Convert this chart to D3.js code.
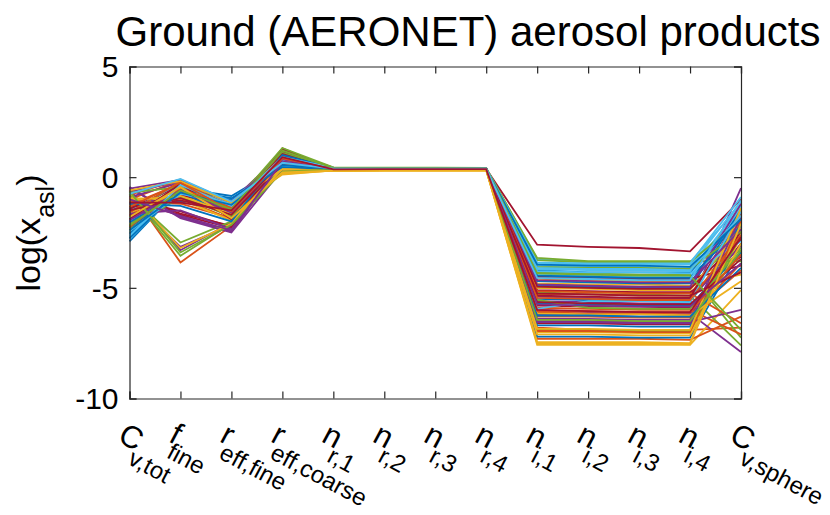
<!DOCTYPE html>
<html>
<head>
<meta charset="utf-8">
<script src="https://cdn.jsdelivr.net/npm/d3@7"></script>
<style>
  body { margin: 0; background: #fff; }
  text { font-family: "Liberation Sans", Arial, Helvetica, sans-serif; fill: #000; }
</style>
</head>
<body>
<div id="chart"></div>
<script>
// tick labels (base letter + subscript)
var labelBase = ["C", "f", "r", "r", "n", "n", "n", "n", "n", "n", "n", "n", "C"];
var labelSub = ["v,tot", "fine", "eff,fine", "eff,coarse", "r,1", "r,2", "r,3", "r,4", "i,1", "i,2", "i,3", "i,4", "v,sphere"];

// one value per sample line (log scale)
var cvTot = [-2.9, -0.6, -1.5, -0.5, -2.2, -2.7, -1.2,
  -1.8, -1.0, -2.4, -0.9, -0.75, -2.6, -0.95,
  -2.0, -1.3, -1.7, -0.55, -2.5, -1.9, -1.1,
  -1.4, -0.8, -2.1, -0.9, -1.6, -2.8, -0.85,
  -2.3, -1.1, -1.9, -0.65, -0.8, -2.0, -1.45,
  -2.55, -1.7, -0.95, -0.45, -2.15, -1.55, -1.75,
  -2.05, -1.25, -0.7, -0.52, -2.35, -1.85, -1.35,
  -2.75, -1.6, -1.05, -1.65, -0.7, -2.45, -1.9,
  -1.2, -2.25, -0.6, -1.95, -0.65, -2.65, -1.5,
  -2.4, -1.35, -1.8, -1.0, -2.2, -0.75, -1.15];
var fFine = [-0.5, -3.85, -0.3, -1.8, -0.8, -0.6, -0.9,
  -0.4, -0.15, -0.7, -0.25, -3.55, -0.55, -1.55,
  -0.35, -0.95, -0.2, -3.3, -0.45, -0.65, -1.7,
  -1.1, -0.1, -0.75, -3.15, -0.3, -0.5, -1.65,
  -0.6, -1.2, -0.4, -0.2, -2.95, -0.85, -0.35,
  -0.45, -0.7, -1.0, -1.85, -0.55, -0.25, -0.8,
  -0.65, -0.3, -3.2, -0.12, -0.9, -0.4, -1.05,
  -0.55, -0.2, -0.85, -1.5, -0.45, -0.75, -0.3,
  -1.3, -0.5, -0.18, -0.6, -3.4, -0.35, -0.95,
  -0.7, -0.25, -0.45, -1.75, -0.6, -0.08, -1.15];
var rEffFine = [-0.85, -2.2, -1.5, -2.45, -1.8, -1.3, -1.6,
  -1.4, -1.2, -1.7, -1.1, -2.1, -1.5, -2.25,
  -1.65, -1.9, -1.25, -2.05, -1.45, -1.35, -2.3,
  -1.55, -1.15, -1.75, -2.15, -1.3, -1.0, -2.2,
  -1.6, -1.85, -1.4, -1.2, -2.0, -1.7, -1.45,
  -1.05, -1.5, -1.95, -2.5, -1.6, -1.25, -1.35,
  -1.8, -1.3, -2.1, -1.1, -1.75, -1.45, -1.55,
  -0.95, -1.35, -1.65, -2.35, -1.5, -1.2, -1.9,
  -2.0, -1.4, -1.15, -1.6, -2.15, -1.3, -1.7,
  -1.25, -1.55, -1.85, -2.4, -1.45, -1.1, -1.5];
var rEffCoarse = [0.5, 0.3, 0.15, 0.6, 1.0, 0.8, 1.3,
  0.7, 0.9, 0.45, 1.1, 0.35, 0.65, 0.55,
  0.85, 1.2, 0.25, 0.4, 0.95, 0.75, 1.25,
  0.6, 1.05, 0.2, 0.5, 1.32, 0.7, 0.8,
  0.9, 0.55, 0.12, 0.75, 0.45, 0.85, 1.15,
  0.65, 1.0, 0.3, 0.35, 1.1, 0.6, 0.95,
  0.8, 0.7, 0.4, 0.9, 0.55, 0.5, 1.05,
  0.45, 0.95, 0.18, 0.65, 0.85, 0.75, 0.6,
  1.0, 0.6, 0.35, 0.8, 0.25, 0.9, 0.7,
  0.55, 0.85, 0.22, 0.7, 1.2, 0.65, 0.9];
var nR1 = [0.38, 0.33, 0.30, 0.36, 0.41, 0.39, 0.35,
  0.42, 0.37, 0.34, 0.40, 0.31, 0.38, 0.36,
  0.35, 0.43, 0.29, 0.37, 0.40, 0.39, 0.34,
  0.41, 0.36, 0.32, 0.38, 0.44, 0.35, 0.37,
  0.39, 0.34, 0.31, 0.40, 0.36, 0.42, 0.38,
  0.37, 0.40, 0.33, 0.35, 0.43, 0.38, 0.36,
  0.40, 0.35, 0.30, 0.39, 0.37, 0.41, 0.34,
  0.36, 0.42, 0.32, 0.38, 0.40, 0.37, 0.39,
  0.41, 0.34, 0.31, 0.37, 0.35, 0.43, 0.38,
  0.38, 0.36, 0.29, 0.40, 0.42, 0.39, 0.35];
var nR2 = [0.38, 0.34, 0.31, 0.36, 0.41, 0.38, 0.36,
  0.41, 0.37, 0.35, 0.40, 0.32, 0.38, 0.36,
  0.36, 0.42, 0.30, 0.37, 0.40, 0.38, 0.35,
  0.40, 0.37, 0.32, 0.38, 0.43, 0.36, 0.37,
  0.39, 0.35, 0.32, 0.39, 0.37, 0.41, 0.38,
  0.37, 0.40, 0.34, 0.36, 0.42, 0.38, 0.37,
  0.39, 0.36, 0.31, 0.39, 0.37, 0.40, 0.35,
  0.37, 0.41, 0.33, 0.38, 0.40, 0.37, 0.39,
  0.40, 0.35, 0.32, 0.37, 0.36, 0.42, 0.38,
  0.38, 0.37, 0.30, 0.39, 0.41, 0.38, 0.36];
var nR3 = [0.37, 0.34, 0.31, 0.37, 0.40, 0.38, 0.36,
  0.41, 0.36, 0.35, 0.39, 0.32, 0.37, 0.36,
  0.36, 0.42, 0.30, 0.36, 0.39, 0.38, 0.35,
  0.40, 0.37, 0.33, 0.38, 0.43, 0.36, 0.36,
  0.38, 0.35, 0.32, 0.39, 0.37, 0.41, 0.37,
  0.37, 0.39, 0.34, 0.36, 0.42, 0.37, 0.37,
  0.39, 0.36, 0.31, 0.38, 0.37, 0.40, 0.35,
  0.37, 0.41, 0.33, 0.37, 0.39, 0.37, 0.38,
  0.40, 0.35, 0.32, 0.37, 0.36, 0.41, 0.38,
  0.37, 0.37, 0.30, 0.39, 0.41, 0.38, 0.36];
var nR4 = [0.37, 0.35, 0.32, 0.37, 0.40, 0.38, 0.37,
  0.40, 0.36, 0.35, 0.39, 0.33, 0.37, 0.36,
  0.36, 0.41, 0.31, 0.36, 0.39, 0.37, 0.35,
  0.39, 0.37, 0.33, 0.38, 0.42, 0.36, 0.36,
  0.38, 0.36, 0.33, 0.38, 0.37, 0.40, 0.37,
  0.37, 0.39, 0.34, 0.36, 0.41, 0.37, 0.37,
  0.38, 0.36, 0.32, 0.38, 0.37, 0.39, 0.36,
  0.37, 0.40, 0.34, 0.37, 0.39, 0.37, 0.38,
  0.39, 0.36, 0.33, 0.37, 0.36, 0.40, 0.37,
  0.37, 0.37, 0.31, 0.38, 0.40, 0.38, 0.36];
var nI1 = [-4.2, -6.8, -7.58, -6.0, -5.0, -3.7, -3.05,
  -5.5, -7.3, -4.6, -6.4, -5.2, -3.9, -5.8,
  -4.9, -6.1, -7.0, -5.6, -3.65, -4.4, -6.6,
  -7.2, -5.3, -4.8, -6.2, -4.3, -4.0, -5.1,
  -6.7, -5.9, -7.45, -5.4, -6.9, -4.15, -4.5,
  -4.7, -6.3, -5.0, -6.5, -3.75, -4.25, -5.35,
  -5.7, -6.95, -6.15, -4.85, -5.55, -3.85, -4.95,
  -4.45, -5.15, -7.1, -6.55, -4.05, -5.95, -5.65,
  -6.25, -5.45, -6.85, -4.65, -6.45, -4.1, -5.25,
  -3.95, -6.05, -7.5, -5.75, -4.35, -4.55, -6.0];
var nI2 = [-4.3, -6.9, -7.58, -6.1, -5.0, -3.85, -3.15,
  -5.55, -7.3, -4.65, -6.4, -5.3, -3.95, -5.85,
  -4.95, -6.15, -7.0, -5.65, -3.8, -4.45, -6.6,
  -7.2, -5.3, -4.85, -6.25, -4.35, -4.05, -5.15,
  -6.7, -5.95, -7.45, -5.45, -6.9, -4.2, -4.55,
  -4.75, -6.3, -5.05, -6.5, -3.85, -4.3, -5.4,
  -5.75, -6.95, -6.2, -4.9, -5.9, -3.9, -5.0,
  -4.5, -5.2, -7.1, -6.55, -4.1, -5.6, -5.7,
  -6.25, -5.5, -6.85, -4.7, -6.45, -4.15, -5.3,
  -4.0, -6.05, -7.5, -5.8, -4.4, -4.6, -6.05];
var nI3 = [-4.3, -6.9, -7.58, -6.1, -5.05, -3.85, -3.2,
  -5.6, -7.3, -4.7, -6.45, -5.3, -3.95, -5.85,
  -5.0, -6.15, -7.05, -5.7, -3.8, -4.5, -6.65,
  -7.25, -5.35, -4.85, -6.3, -4.4, -4.05, -5.2,
  -6.75, -6.0, -7.45, -5.5, -6.95, -4.2, -4.6,
  -4.8, -6.35, -5.1, -6.55, -3.85, -4.3, -5.45,
  -5.8, -7.0, -6.2, -4.95, -5.95, -3.9, -5.05,
  -4.55, -5.25, -7.15, -6.6, -4.1, -5.6, -5.75,
  -6.3, -5.55, -6.9, -4.75, -6.5, -4.15, -5.35,
  -4.0, -6.1, -7.5, -5.85, -4.45, -4.65, -6.1];
var nI4 = [-4.3, -6.9, -7.58, -6.15, -5.05, -3.85, -3.35,
  -5.6, -7.35, -4.7, -6.45, -5.35, -3.95, -5.9,
  -5.0, -6.2, -7.05, -5.7, -3.8, -4.5, -6.65,
  -7.25, -5.35, -4.9, -6.3, -4.4, -4.05, -5.2,
  -6.75, -6.0, -7.5, -5.5, -6.95, -4.25, -4.6,
  -4.8, -6.35, -5.1, -6.55, -3.85, -4.35, -5.45,
  -5.8, -7.0, -6.25, -4.95, -5.95, -3.9, -5.05,
  -4.55, -5.25, -7.15, -6.6, -4.15, -5.65, -5.75,
  -6.3, -5.55, -6.9, -4.75, -6.5, -4.2, -5.35,
  -4.05, -6.1, -7.55, -5.85, -4.45, -4.65, -6.1];
var cvSphere = [-1.8, -6.8, -5.1, -7.9, -2.5, -1.2, -1.0,
  -2.8, -6.3, -3.5, -1.5, -7.6, -2.2, -3.0,
  -1.6, -4.2, -2.7, -0.5, -3.8, -1.4, -2.4,
  -3.3, -1.9, -4.4, -2.0, -7.25, -1.1, -3.6,
  -2.1, -7.1, -1.7, -3.1, -2.6, -1.3, -4.0,
  -1.5, -3.9, -2.3, -6.0, -1.9, -2.9, -1.6,
  -3.4, -2.0, -4.7, -1.2, -3.2, -0.9, -2.8,
  -2.2, -6.6, -3.0, -1.8, -2.45, -1.55, -3.7,
  -4.1, -2.6, -1.4, -2.35, -3.3, -1.75, -4.3,
  -1.9, -3.5, -2.1, -3.9, -6.9, -1.05, -2.7];

var yTicks = [5, 0, -5, -10];
var colors = ["#0072BD", "#D95319", "#EDB120", "#7E2F8E", "#77AC30", "#4DBEEE", "#A2142F"];

var columns = [cvTot, fFine, rEffFine, rEffCoarse, nR1, nR2, nR3, nR4, nI1, nI2, nI3, nI4, cvSphere];
var lines = d3.range(cvTot.length).map(function(i) {
  return columns.map(function(col) { return col[i]; });
});

var w = 830, h = 515;
var plotLeft = 129.5, plotRight = 741, plotTop = 66.5, plotBottom = 398.5;

var svg = d3.select("#chart").append("svg")
  .attr("width", w)
  .attr("height", h);

svg.append("rect").attr("width", w).attr("height", h).attr("fill", "#fff");

var x = d3.scalePoint()
  .domain(d3.range(labelBase.length))
  .range([plotLeft, plotRight]);

var y = d3.scaleLinear()
  .domain([-10, 5])
  .range([plotBottom, plotTop]);

var line = d3.line()
  .x(function(d, i) { return x(i); })
  .y(function(d) { return y(d); });

svg.append("g")
  .selectAll("path")
  .data(lines)
  .enter()
  .append("path")
  .attr("d", line)
  .attr("fill", "none")
  .attr("stroke", function(d, i) { return colors[i % colors.length]; })
  .attr("stroke-width", 1.8)
  .attr("stroke-linejoin", "miter");

// box with inward ticks on all four sides
var axisColor = "#262626";
var tickLen = 7;

svg.append("g").attr("transform", "translate(0," + plotBottom + ")")
  .call(d3.axisBottom(x).tickSize(-tickLen).tickFormat(""));
svg.append("g").attr("transform", "translate(0," + plotTop + ")")
  .call(d3.axisTop(x).tickSize(-tickLen).tickFormat(""));
svg.append("g").attr("transform", "translate(" + plotLeft + ",0)")
  .call(d3.axisLeft(y).tickValues(yTicks).tickSize(-tickLen).tickFormat(""));
svg.append("g").attr("transform", "translate(" + plotRight + ",0)")
  .call(d3.axisRight(y).tickValues(yTicks).tickSize(-tickLen).tickFormat(""));

svg.selectAll(".domain, .tick line")
  .attr("stroke", axisColor)
  .attr("stroke-width", 1.2);

// y tick labels
svg.append("g")
  .selectAll("text")
  .data(yTicks)
  .enter()
  .append("text")
  .attr("x", plotLeft - 11)
  .attr("y", function(d) { return y(d); })
  .attr("dy", "0.36em")
  .attr("text-anchor", "end")
  .style("font-size", "30px")
  .text(function(d) { return d; });

// rotated x tick labels with subscripts
var xl = svg.append("g")
  .selectAll("text")
  .data(labelBase)
  .enter()
  .append("text")
  .attr("transform", function(d, i) {
    return "translate(" + (x(i) - 13) + ",441) rotate(28)";
  })
  .style("font-size", "31px");

xl.append("tspan").text(function(d) { return d; });
xl.append("tspan")
  .attr("dx", -3)
  .attr("dy", 15)
  .style("font-size", "24px")
  .text(function(d, i) { return labelSub[i]; });

// y axis label
var yl = svg.append("text")
  .attr("transform", "translate(40,233) rotate(-90)")
  .attr("text-anchor", "middle")
  .style("font-size", "34px");
yl.append("tspan").text("log(x");
yl.append("tspan").attr("dy", 14).style("font-size", "25px").text("asl");
yl.append("tspan").attr("dy", -14).text(")");

// title
svg.append("text")
  .attr("x", 468)
  .attr("y", 46)
  .attr("text-anchor", "middle")
  .style("font-size", "42px")
  .text("Ground (AERONET) aerosol products");
</script>
</body>
</html>
